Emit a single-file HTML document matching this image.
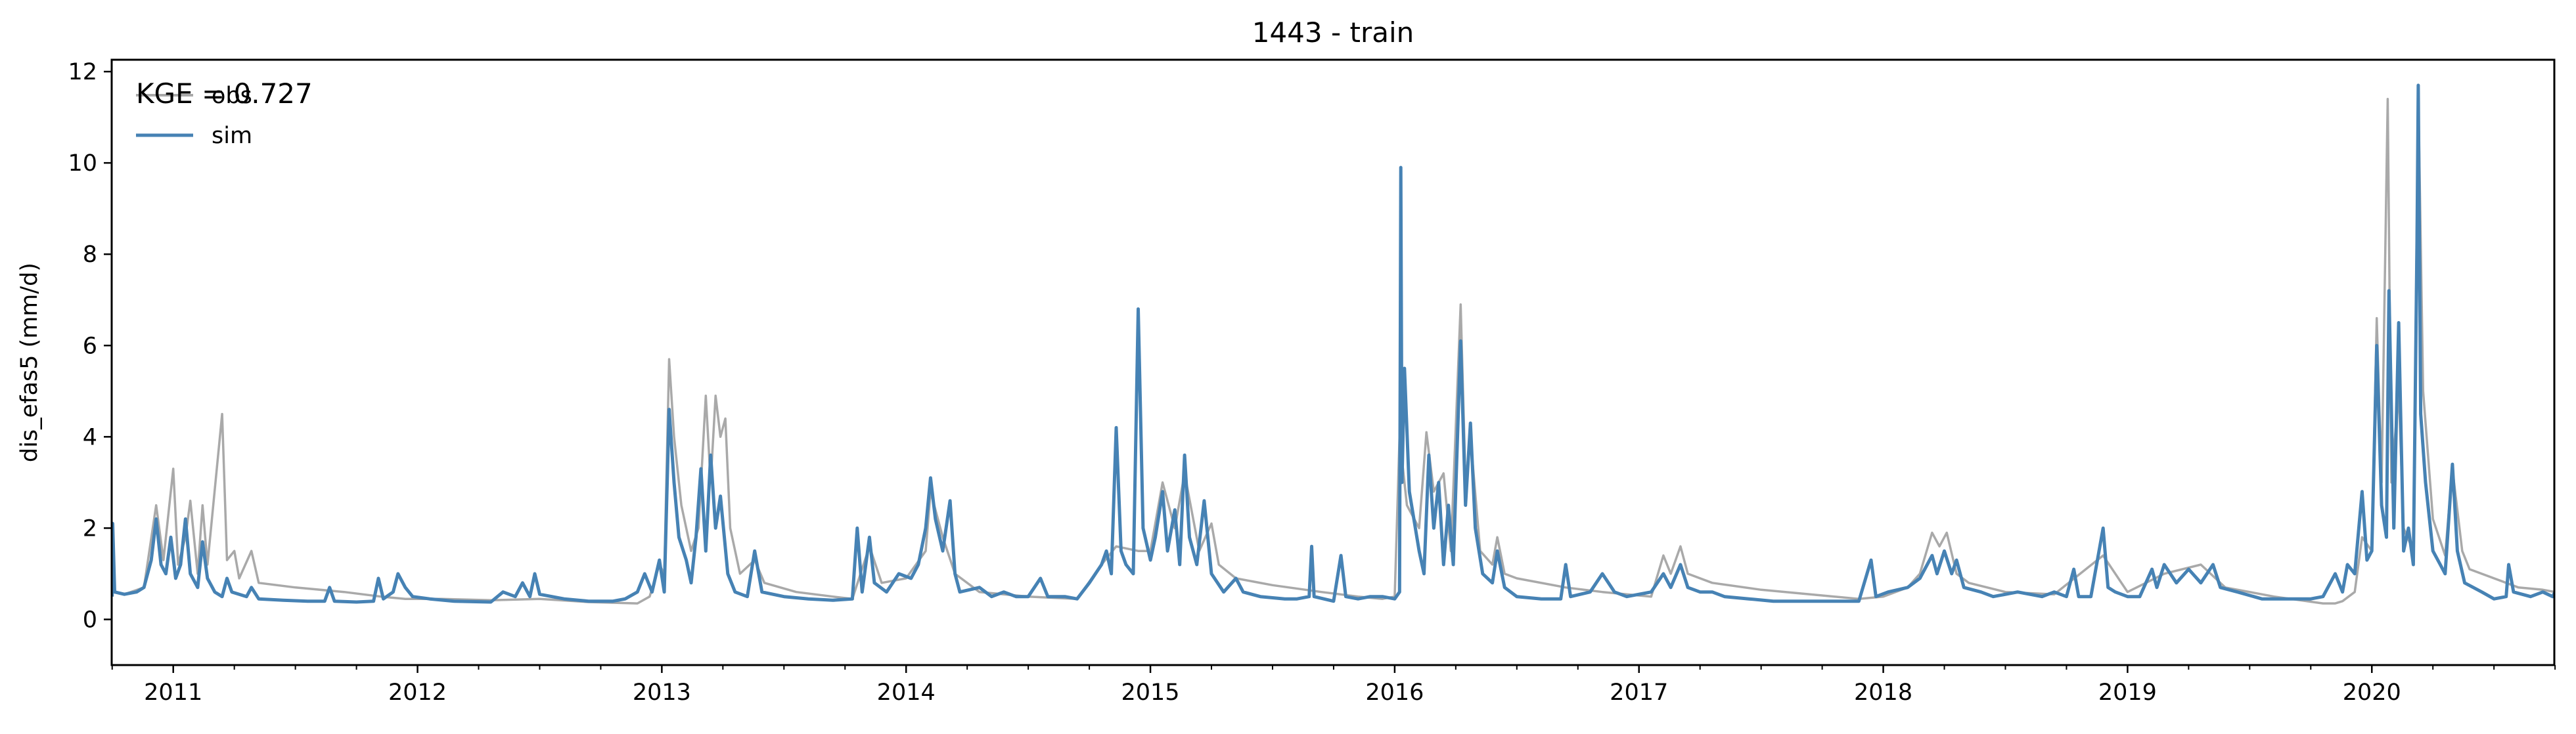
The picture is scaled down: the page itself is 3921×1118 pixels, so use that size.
<!DOCTYPE html>
<html><head><meta charset="utf-8"><style>
html,body{margin:0;padding:0;background:#fff;}
svg{display:block;font-family:"DejaVu Sans","Liberation Sans",sans-serif;}
</style></head><body>
<svg id="chart" width="3921" height="1118" viewBox="0 0 3921 1118" xmlns="http://www.w3.org/2000/svg">
<rect x="0" y="0" width="3921" height="1118" fill="#fff"/>
<text x="2029" y="64" font-size="42" text-anchor="middle">1443 - train</text>
<text x="0" y="0" font-size="35" text-anchor="middle" transform="translate(56,552) rotate(-90)">dis_efas5 (mm/d)</text>
<g id="plot"></g>
<g id="axes"></g>
<g>
<line x1="207" y1="145" x2="294" y2="145" stroke="#a9a9a9" stroke-width="4"/>
<text x="322" y="157" font-size="35">obs</text>
<line x1="207" y1="206" x2="294" y2="206" stroke="#4682b4" stroke-width="5"/>
<text x="322" y="218" font-size="35">sim</text>
</g>
<text x="207" y="157" font-size="42">KGE = 0.727</text>
</svg>
<script>
const simT=[2010.75,2010.752,2010.76,2010.8,2010.85,2010.88,2010.91,2010.93,2010.95,2010.97,2010.99,2011.01,2011.03,2011.05,2011.07,2011.1,2011.12,2011.14,2011.17,2011.2,2011.22,2011.24,2011.3,2011.32,2011.35,2011.45,2011.55,2011.62,2011.64,2011.66,2011.75,2011.82,2011.84,2011.86,2011.9,2011.92,2011.95,2011.98,2012.05,2012.15,2012.3,2012.35,2012.4,2012.43,2012.46,2012.48,2012.5,2012.6,2012.7,2012.8,2012.85,2012.9,2012.93,2012.96,2012.99,2013.01,2013.03,2013.05,2013.07,2013.1,2013.12,2013.14,2013.16,2013.18,2013.2,2013.22,2013.24,2013.27,2013.3,2013.35,2013.38,2013.41,2013.5,2013.6,2013.7,2013.78,2013.8,2013.82,2013.85,2013.87,2013.92,2013.97,2014.02,2014.05,2014.08,2014.1,2014.12,2014.15,2014.18,2014.2,2014.22,2014.3,2014.35,2014.4,2014.45,2014.5,2014.55,2014.58,2014.65,2014.7,2014.75,2014.8,2014.82,2014.84,2014.86,2014.88,2014.9,2014.93,2014.95,2014.97,2015.0,2015.02,2015.05,2015.07,2015.1,2015.12,2015.14,2015.16,2015.19,2015.22,2015.25,2015.3,2015.35,2015.38,2015.45,2015.55,2015.6,2015.65,2015.66,2015.67,2015.75,2015.78,2015.8,2015.85,2015.9,2015.95,2016.0,2016.02,2016.025,2016.03,2016.04,2016.06,2016.1,2016.12,2016.14,2016.16,2016.18,2016.2,2016.22,2016.24,2016.27,2016.29,2016.31,2016.33,2016.36,2016.4,2016.42,2016.45,2016.5,2016.6,2016.68,2016.7,2016.72,2016.8,2016.85,2016.9,2016.95,2017.05,2017.1,2017.13,2017.17,2017.2,2017.25,2017.3,2017.35,2017.45,2017.55,2017.65,2017.75,2017.85,2017.9,2017.95,2017.97,2018.02,2018.1,2018.15,2018.2,2018.22,2018.25,2018.28,2018.3,2018.33,2018.4,2018.45,2018.55,2018.65,2018.7,2018.75,2018.78,2018.8,2018.85,2018.9,2018.92,2018.95,2019.0,2019.05,2019.1,2019.12,2019.15,2019.2,2019.25,2019.3,2019.35,2019.38,2019.45,2019.55,2019.65,2019.75,2019.8,2019.85,2019.88,2019.9,2019.93,2019.96,2019.98,2020.0,2020.02,2020.04,2020.06,2020.07,2020.09,2020.11,2020.13,2020.15,2020.17,2020.185,2020.19,2020.2,2020.22,2020.25,2020.28,2020.3,2020.33,2020.35,2020.38,2020.45,2020.5,2020.55,2020.56,2020.58,2020.65,2020.7,2020.74,2020.75];
const simV=[0.5,2.1,0.6,0.55,0.6,0.7,1.3,2.2,1.2,1.0,1.8,0.9,1.2,2.2,1.0,0.7,1.7,0.9,0.6,0.5,0.9,0.6,0.5,0.7,0.45,0.42,0.4,0.4,0.7,0.4,0.38,0.4,0.9,0.45,0.6,1.0,0.7,0.5,0.45,0.4,0.38,0.6,0.5,0.8,0.5,1.0,0.55,0.45,0.4,0.4,0.45,0.6,1.0,0.6,1.3,0.6,4.6,3.0,1.8,1.3,0.8,1.8,3.3,1.5,3.6,2.0,2.7,1.0,0.6,0.5,1.5,0.6,0.5,0.45,0.42,0.45,2.0,0.6,1.8,0.8,0.6,1.0,0.9,1.2,2.0,3.1,2.2,1.5,2.6,1.0,0.6,0.7,0.5,0.6,0.5,0.5,0.9,0.5,0.5,0.45,0.8,1.2,1.5,1.0,4.2,1.5,1.2,1.0,6.8,2.0,1.3,1.8,2.8,1.5,2.4,1.2,3.6,1.8,1.2,2.6,1.0,0.6,0.9,0.6,0.5,0.45,0.45,0.5,1.6,0.5,0.4,1.4,0.5,0.45,0.5,0.5,0.45,0.6,9.9,3.0,5.5,2.8,1.5,1.0,3.6,2.0,3.0,1.2,2.5,1.2,6.1,2.5,4.3,2.0,1.0,0.8,1.5,0.7,0.5,0.45,0.45,1.2,0.5,0.6,1.0,0.6,0.5,0.6,1.0,0.7,1.2,0.7,0.6,0.6,0.5,0.45,0.4,0.4,0.4,0.4,0.4,1.3,0.5,0.6,0.7,0.9,1.4,1.0,1.5,1.0,1.3,0.7,0.6,0.5,0.6,0.5,0.6,0.5,1.1,0.5,0.5,2.0,0.7,0.6,0.5,0.5,1.1,0.7,1.2,0.8,1.1,0.8,1.2,0.7,0.6,0.45,0.45,0.45,0.5,1.0,0.6,1.2,1.0,2.8,1.3,1.5,6.0,2.5,1.8,7.2,2.0,6.5,1.5,2.0,1.2,8.3,11.7,4.5,3.0,1.5,1.2,1.0,3.4,1.5,0.8,0.6,0.45,0.5,1.2,0.6,0.5,0.6,0.5,0.6];
const obsT=[2010.75,2010.8,2010.88,2010.93,2010.96,2011.0,2011.02,2011.05,2011.07,2011.1,2011.12,2011.14,2011.2,2011.22,2011.25,2011.27,2011.32,2011.35,2011.5,2011.7,2011.85,2011.95,2012.1,2012.3,2012.5,2012.7,2012.9,2012.95,2012.99,2013.01,2013.03,2013.05,2013.08,2013.12,2013.15,2013.18,2013.2,2013.22,2013.24,2013.26,2013.28,2013.32,2013.38,2013.42,2013.55,2013.7,2013.78,2013.85,2013.9,2014.0,2014.08,2014.1,2014.15,2014.2,2014.3,2014.5,2014.7,2014.8,2014.86,2014.95,2015.0,2015.05,2015.1,2015.14,2015.2,2015.25,2015.28,2015.35,2015.5,2015.7,2015.85,2015.95,2016.0,2016.02,2016.05,2016.1,2016.13,2016.16,2016.2,2016.23,2016.27,2016.29,2016.31,2016.35,2016.4,2016.42,2016.45,2016.5,2016.7,2016.85,2017.05,2017.1,2017.13,2017.17,2017.2,2017.3,2017.5,2017.7,2017.9,2018.0,2018.1,2018.15,2018.2,2018.23,2018.26,2018.3,2018.35,2018.5,2018.7,2018.9,2019.0,2019.15,2019.3,2019.4,2019.6,2019.8,2019.85,2019.88,2019.93,2019.96,2020.0,2020.02,2020.04,2020.065,2020.08,2020.11,2020.13,2020.17,2020.19,2020.21,2020.25,2020.3,2020.33,2020.37,2020.4,2020.55,2020.6,2020.7,2020.75];
const obsV=[0.6,0.55,0.7,2.5,1.3,3.3,1.2,1.8,2.6,1.0,2.5,1.2,4.5,1.3,1.5,0.9,1.5,0.8,0.7,0.6,0.5,0.45,0.45,0.42,0.45,0.38,0.35,0.5,1.2,1.0,5.7,4.0,2.5,1.5,2.0,4.9,3.0,4.9,4.0,4.4,2.0,1.0,1.3,0.8,0.6,0.5,0.45,1.6,0.8,0.9,1.5,2.8,1.8,1.0,0.6,0.5,0.45,1.2,1.6,1.5,1.5,3.0,2.0,3.2,1.5,2.1,1.2,0.9,0.75,0.6,0.5,0.45,0.5,4.0,2.5,2.0,4.1,2.8,3.2,1.5,6.9,3.0,4.0,1.5,1.2,1.8,1.0,0.9,0.7,0.6,0.5,1.4,1.0,1.6,1.0,0.8,0.65,0.55,0.45,0.5,0.7,1.0,1.9,1.6,1.9,1.0,0.8,0.6,0.55,1.4,0.6,1.0,1.2,0.7,0.5,0.35,0.35,0.4,0.6,1.8,1.5,6.6,3.0,11.4,3.0,5.0,2.0,1.5,11.6,5.0,2.2,1.4,3.3,1.5,1.1,0.8,0.7,0.65,0.6];
const yTicks=[0,2,4,6,8,10,12];
const yearLabels=["2011","2012","2013","2014","2015","2016","2017","2018","2019","2020"];

const L=170,R=3888,T=91,B=1013;
const X0=2010.748,X1=2020.747,Y0=-1.0,Y1=12.26;
function sx(t){return L+(t-X0)/(X1-X0)*(R-L);}
function sy(v){return B-(v-Y0)/(Y1-Y0)*(B-T);}
const NS="http://www.w3.org/2000/svg";
const plot=document.getElementById('plot');
const axes=document.getElementById('axes');
function mk(tag,attrs,parent){const e=document.createElementNS(NS,tag);for(const k in attrs)e.setAttribute(k,attrs[k]);parent.appendChild(e);return e;}
function pathFrom(ts,vs){return ts.map((t,i)=>(i?'L':'M')+sx(t).toFixed(1)+','+sy(vs[i]).toFixed(1)).join('');}
const cp=mk('clipPath',{id:'clip'},plot);
mk('rect',{x:L,y:T,width:R-L,height:B-T},cp);
const obsPath=mk('path',{d:pathFrom(obsT,obsV),fill:'none',stroke:'#a9a9a9','stroke-width':3.5,'stroke-linejoin':'round','clip-path':'url(#clip)'},plot);


const simPath=mk('path',{d:pathFrom(simT,simV),fill:'none',stroke:'#4682b4','stroke-width':5,'stroke-linejoin':'round','clip-path':'url(#clip)'},plot);



const frame=mk('rect',{x:L,y:T,width:R-L,height:B-T,fill:'none',stroke:'#000','stroke-width':3},axes);


yTicks.forEach(v=>{
  const y=sy(v);
  const tk=mk('line',{x1:L-12,y1:y,x2:L,y2:y,stroke:'#000','stroke-width':2.5},axes);
  
  
  const tx=mk('text',{x:L-22,y:y+12,'font-size':35,'text-anchor':'end'},axes);
  
  
  tx.textContent=String(v);
});
for(let yr=2010;yr<=2020;yr++){
  for(let q=0;q<4;q++){
    const t=yr+q*0.25;
    if(t<X0-0.01||t>X1+0.01)continue;
    const x=sx(t);const major=(q===0);
    const tk=mk('line',{x1:x,y1:B,x2:x,y2:B+(major?12:7),stroke:'#000','stroke-width':major?2.5:2},axes);
    
    
  }
}
yearLabels.forEach(lbl=>{
  const x=sx(parseInt(lbl,10));
  const tx=mk('text',{x:x,y:B+53,'font-size':35,'text-anchor':'middle'},axes);
  
  
  tx.textContent=lbl;
});
</script>
</body></html>
